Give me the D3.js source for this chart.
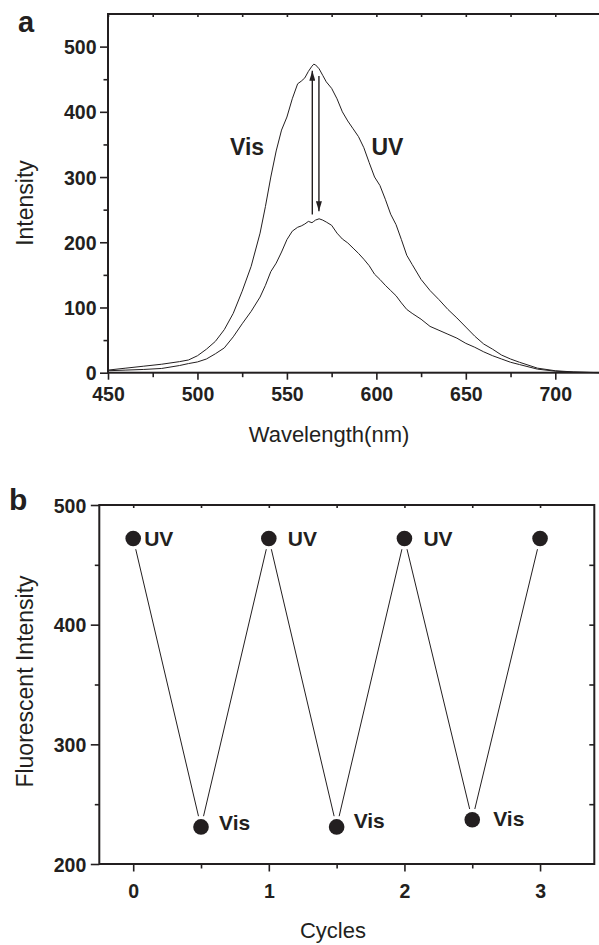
<!DOCTYPE html>
<html><head><meta charset="utf-8">
<script src="https://cdn.jsdelivr.net/npm/d3@7"></script>
<style>body{margin:0;background:#fff} svg{display:block}</style>
</head><body>
<svg id="c" width="599" height="945"></svg>
<script>
// ---- Panel a data ----
const wavelength = [450,460,470,480,490,495,500,505,510,515,520,525,530,535,538,541,544,547,550,553,556,558,560,562,564,565,566,568,570,572,575,578,581,584,587,590,593,596,599,602,605,608,611,614,617,620,625,630,635,640,645,650,655,660,665,670,675,680,690,700,710,725];
const uvIntensity = [4,7,10,13,17,19.5,26,36,48,66,91,125,163,214,255,300,340,372,392,420,443,447,452,462,470,473,472,466,456,446,436,420,400,386,374,362,345,322,300,287,266,243,227,204,180,166,143,126,112,97,84,70,56,44,36,27,21,16,7,3,1.2,0];
const visIntensity = [3,4,5,6.5,11,14,16.5,21,29,38,55,75,94,116,134,155,168,185,204,217,223,225,228,232,230,232,234,236,234,231,226,214,205,199,191,183,174,164,151,143,134,126,118,107,97,91,82,71,65,59,53,45,39,32,26,21,16,12.5,5.5,2.3,0.8,0];
const wlTicks = [450,500,550,600,650,700];
const wlMinor = [475,525,575,625,675];
const intTicks = [0,100,200,300,400,500];
const intMinor = [50,150,250,350,450];
const arrowUpWl = 564.2, arrowUpFrom = 242.6, arrowUpTo = 463;
const arrowDownWl = 567.9, arrowDownFrom = 455, arrowDownTo = 247.7;
const curveLabels = ["Vis","UV"];

// ---- Panel b data ----
const cycles = [0,0.5,1,1.5,2,2.5,3];
const fluor = [472,231,472,231,472,237,472];
const pointLabels = ["UV","Vis","UV","Vis","UV","Vis",""];
const cycleTicks = [0,1,2,3];
const cycleMinor = [0.5,1.5,2.5];
const fluorTicks = [200,300,400,500];
const fluorMinor = [250,350,450];

// ---- layout ----
const INK = "#231f20";
const FONT = "'Liberation Sans', Arial, Helvetica, sans-serif";
const labelOffsets = [[11,7.5],[18,3.5],[19,7.5],[17,1.5],[19,7.5],[21,6.5]];

const svg = d3.select("#c").style("font-family", FONT);

svg.append("defs").append("marker")
  .attr("id","ah").attr("viewBox","0 0 10 6").attr("refX",10).attr("refY",3)
  .attr("markerWidth",10).attr("markerHeight",6).attr("markerUnits","userSpaceOnUse")
  .attr("orient","auto")
  .append("path").attr("d","M0,0 L10,3 L0,6 Z").attr("fill",INK);

function styleAxis(g){
  g.select(".domain").remove();
  g.selectAll(".tick line").attr("stroke",INK).attr("stroke-width",1.6);
  g.selectAll("text").attr("fill",INK).style("font-family",FONT)
    .style("font-weight","bold").style("font-size","19.5px");
}

// ================= Panel a =================
const xA = d3.scaleLinear([450,725],[108,600]);
const yA = d3.scaleLinear([0,550],[372.7,14]);

const gxA = svg.append("g").attr("transform",`translate(0,${yA(0)})`)
  .call(d3.axisBottom(xA).tickValues(wlTicks).tickSize(7).tickFormat(d3.format("d")));
styleAxis(gxA);
gxA.selectAll("text").attr("y",28).attr("dy",0);
svg.append("g").attr("transform",`translate(0,${yA(0)})`)
  .call(d3.axisBottom(xA).tickValues(wlMinor).tickSize(4.5).tickFormat(""))
  .call(styleAxis);
svg.append("g").attr("transform",`translate(0,${yA(550)})`)
  .call(d3.axisBottom(xA).tickValues(wlTicks.concat(wlMinor)).tickSize(3).tickFormat(""))
  .call(styleAxis);
const gyA = svg.append("g").attr("transform",`translate(${xA(450)},0)`)
  .call(d3.axisLeft(yA).tickValues(intTicks).tickSize(8).tickPadding(3.5).tickFormat(d3.format("d")));
styleAxis(gyA);
gyA.selectAll("text").attr("dy","0.36em");
svg.append("g").attr("transform",`translate(${xA(450)},0)`)
  .call(d3.axisLeft(yA).tickValues(intMinor).tickSize(4.5).tickFormat(""))
  .call(styleAxis);
svg.append("rect").attr("x",xA(450)).attr("y",yA(550))
  .attr("width",xA(725)-xA(450)).attr("height",yA(0)-yA(550))
  .attr("fill","none").attr("stroke",INK).attr("stroke-width",2);

const lineA = d3.line().x((d,i)=>xA(wavelength[i])).y(d=>yA(d));
[uvIntensity, visIntensity].forEach(s=>{
  svg.append("path").attr("d",lineA(s)).attr("fill","none")
    .attr("stroke",INK).attr("stroke-width",1).attr("stroke-linejoin","round");
});

svg.append("line").attr("x1",xA(arrowUpWl)).attr("x2",xA(arrowUpWl))
  .attr("y1",yA(arrowUpFrom)).attr("y2",yA(arrowUpTo))
  .attr("stroke",INK).attr("stroke-width",1.4).attr("marker-end","url(#ah)");
svg.append("line").attr("x1",xA(arrowDownWl)).attr("x2",xA(arrowDownWl))
  .attr("y1",yA(arrowDownFrom)).attr("y2",yA(arrowDownTo))
  .attr("stroke",INK).attr("stroke-width",1.4).attr("marker-end","url(#ah)");

svg.append("text").attr("x",230).attr("y",155).text(curveLabels[0])
  .attr("fill",INK).style("font-weight","bold").style("font-size","23px");
svg.append("text").attr("x",371.5).attr("y",155).text(curveLabels[1])
  .attr("fill",INK).style("font-weight","bold").style("font-size","23px");

svg.append("text").attr("transform","translate(33,203) rotate(-90)")
  .attr("text-anchor","middle").attr("fill",INK).style("font-size","23px").text("Intensity");
svg.append("text").attr("x",329).attr("y",442).attr("text-anchor","middle")
  .attr("fill",INK).style("font-size","22px").text("Wavelength(nm)");
svg.append("text").attr("x",18).attr("y",32).attr("fill",INK)
  .style("font-weight","bold").style("font-size","29px").text("a");

// ================= Panel b =================
const xB = d3.scaleLinear([-0.25,3.4],[99.3,594.3]);
const yB = d3.scaleLinear([200,500],[864,505]);

const gxB = svg.append("g").attr("transform",`translate(0,${yB(200)})`)
  .call(d3.axisBottom(xB).tickValues(cycleTicks).tickSize(7.5).tickFormat(d3.format("d")));
styleAxis(gxB);
gxB.selectAll("text").attr("y",34).attr("dy",0);
svg.append("g").attr("transform",`translate(0,${yB(200)})`)
  .call(d3.axisBottom(xB).tickValues(cycleMinor).tickSize(4.5).tickFormat(""))
  .call(styleAxis);
svg.append("g").attr("transform",`translate(0,${yB(500)})`)
  .call(d3.axisBottom(xB).tickValues(cycleTicks.concat(cycleMinor)).tickSize(3).tickFormat(""))
  .call(styleAxis);
const gyB = svg.append("g").attr("transform",`translate(${xB(-0.25)},0)`)
  .call(d3.axisLeft(yB).tickValues(fluorTicks).tickSize(8.5).tickPadding(4.5).tickFormat(d3.format("d")));
styleAxis(gyB);
gyB.selectAll("text").attr("dy","0.36em");
svg.append("g").attr("transform",`translate(${xB(-0.25)},0)`)
  .call(d3.axisLeft(yB).tickValues(fluorMinor).tickSize(4.5).tickFormat(""))
  .call(styleAxis);
svg.append("g").attr("transform",`translate(${xB(3.4)},0)`)
  .call(d3.axisLeft(yB).tickValues(fluorMinor.concat([300,400])).tickSize(-5).tickFormat(""))
  .call(g=>{styleAxis(g); g.selectAll(".tick line").attr("x2",-5);});
svg.append("rect").attr("x",xB(-0.25)).attr("y",yB(500))
  .attr("width",xB(3.4)-xB(-0.25)).attr("height",yB(200)-yB(500))
  .attr("fill","none").attr("stroke",INK).attr("stroke-width",2);

const pts = cycles.map((c,i)=>[xB(c), yB(fluor[i])]);
const gap = 11;
for(let i=0;i<pts.length-1;i++){
  const [x1,y1]=pts[i],[x2,y2]=pts[i+1];
  const L=Math.hypot(x2-x1,y2-y1), ux=(x2-x1)/L, uy=(y2-y1)/L;
  svg.append("line").attr("x1",x1+ux*gap).attr("y1",y1+uy*gap)
    .attr("x2",x2-ux*gap).attr("y2",y2-uy*gap)
    .attr("stroke",INK).attr("stroke-width",1);
}
svg.append("g").selectAll("circle").data(cycles).join("circle")
  .attr("cx",d=>xB(d)).attr("cy",(d,i)=>yB(fluor[i])).attr("r",7.8).attr("fill",INK);
svg.append("g").selectAll("text").data(pointLabels.filter(l=>l)).join("text")
  .attr("x",(d,i)=>xB(cycles[i])+labelOffsets[i][0])
  .attr("y",(d,i)=>yB(fluor[i])+labelOffsets[i][1])
  .attr("fill",INK).style("font-weight","bold").style("font-size","21px").text(d=>d);

svg.append("text").attr("transform","translate(33,681.5) rotate(-90)")
  .attr("text-anchor","middle").attr("fill",INK).style("font-size","23px").text("Fluorescent Intensity");
svg.append("text").attr("x",333).attr("y",938).attr("text-anchor","middle")
  .attr("fill",INK).style("font-size","22px").text("Cycles");
svg.append("text").attr("x",9).attr("y",510).attr("fill",INK)
  .style("font-weight","bold").style("font-size","30px").text("b");
</script>
</body></html>
